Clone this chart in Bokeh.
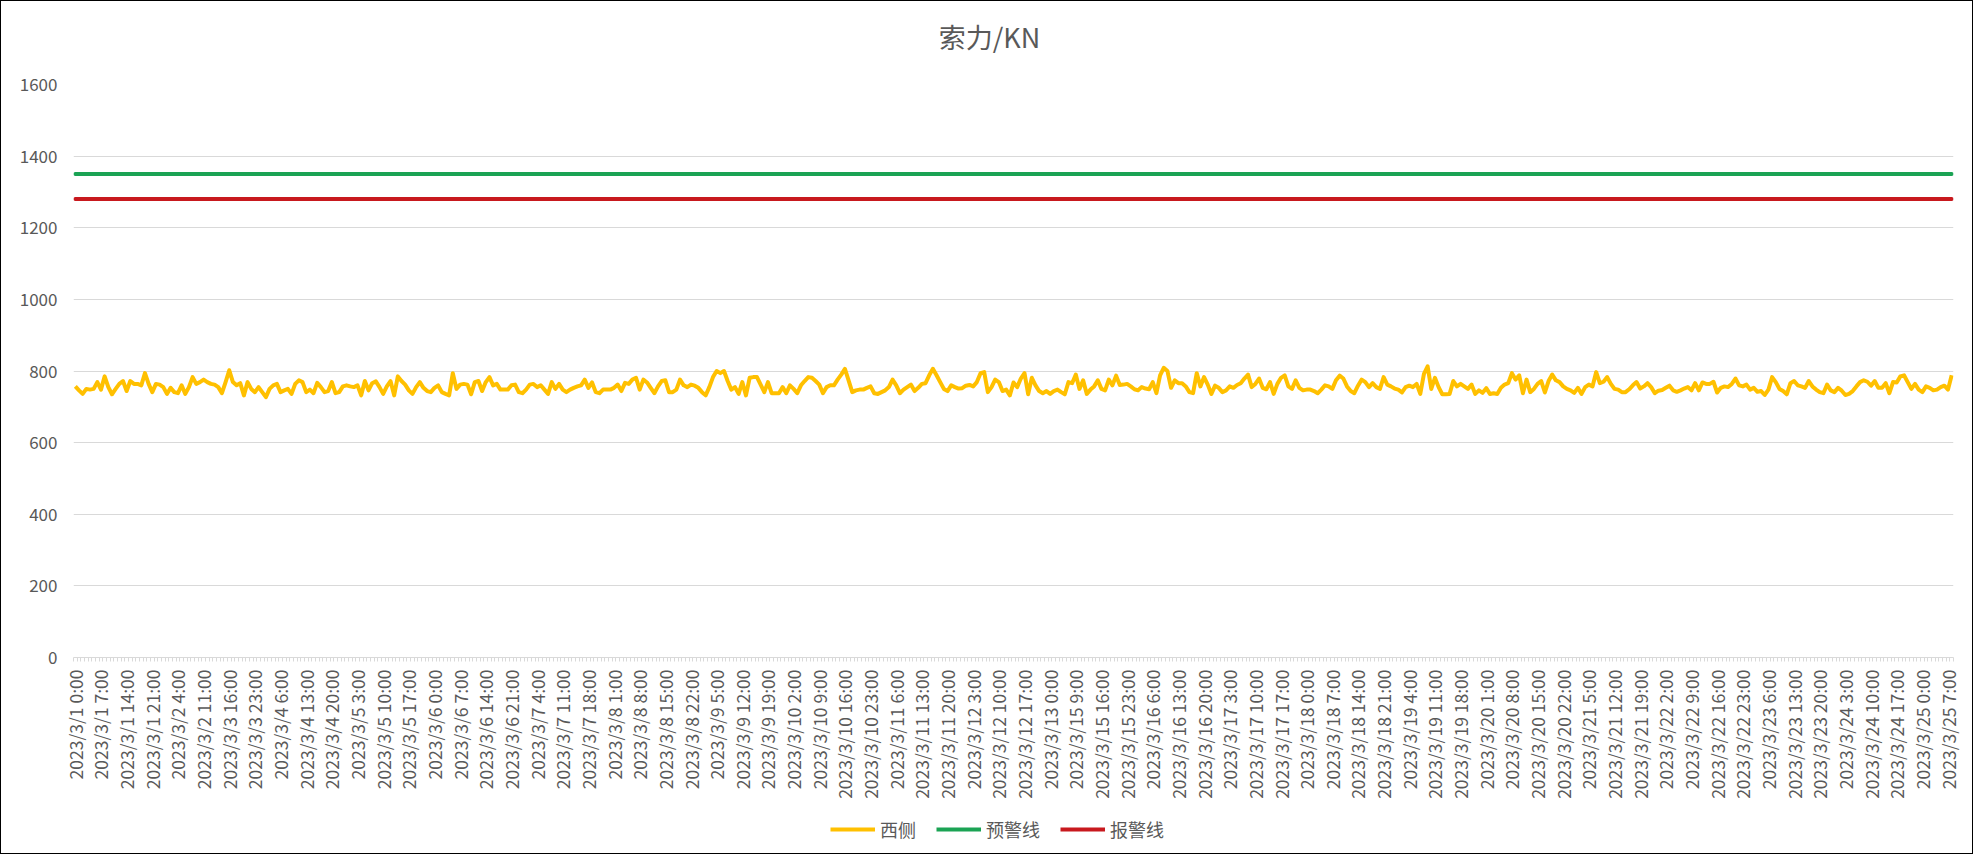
import math
from bokeh.plotting import figure
from bokeh.layouts import column
from bokeh.models import Range1d, FixedTicker, Legend, LegendItem, Label
from bokeh.embed import file_html
from bokeh.resources import INLINE

# ---- data ----
tick_labels = [
    "2023/3/1 0:00", "2023/3/1 7:00", "2023/3/1 14:00", "2023/3/1 21:00", "2023/3/2 4:00",
    "2023/3/2 11:00", "2023/3/3 16:00", "2023/3/3 23:00", "2023/3/4 6:00", "2023/3/4 13:00",
    "2023/3/4 20:00", "2023/3/5 3:00", "2023/3/5 10:00", "2023/3/5 17:00", "2023/3/6 0:00",
    "2023/3/6 7:00", "2023/3/6 14:00", "2023/3/6 21:00", "2023/3/7 4:00", "2023/3/7 11:00",
    "2023/3/7 18:00", "2023/3/8 1:00", "2023/3/8 8:00", "2023/3/8 15:00", "2023/3/8 22:00",
    "2023/3/9 5:00", "2023/3/9 12:00", "2023/3/9 19:00", "2023/3/10 2:00", "2023/3/10 9:00",
    "2023/3/10 16:00", "2023/3/10 23:00", "2023/3/11 6:00", "2023/3/11 13:00", "2023/3/11 20:00",
    "2023/3/12 3:00", "2023/3/12 10:00", "2023/3/12 17:00", "2023/3/13 0:00", "2023/3/15 9:00",
    "2023/3/15 16:00", "2023/3/15 23:00", "2023/3/16 6:00", "2023/3/16 13:00", "2023/3/16 20:00",
    "2023/3/17 3:00", "2023/3/17 10:00", "2023/3/17 17:00", "2023/3/18 0:00", "2023/3/18 7:00",
    "2023/3/18 14:00", "2023/3/18 21:00", "2023/3/19 4:00", "2023/3/19 11:00", "2023/3/19 18:00",
    "2023/3/20 1:00", "2023/3/20 8:00", "2023/3/20 15:00", "2023/3/20 22:00", "2023/3/21 5:00",
    "2023/3/21 12:00", "2023/3/21 19:00", "2023/3/22 2:00", "2023/3/22 9:00", "2023/3/22 16:00",
    "2023/3/22 23:00", "2023/3/23 6:00", "2023/3/23 13:00", "2023/3/23 20:00", "2023/3/24 3:00",
    "2023/3/24 10:00", "2023/3/24 17:00", "2023/3/25 0:00", "2023/3/25 7:00",
]
label_every = 7

west_side = [
    757, 746, 736, 750, 748, 750, 769, 748, 785, 755,
    735, 750, 764, 772, 744, 772, 764, 764, 760, 794,
    764, 741, 764, 762, 755, 736, 753, 741, 738, 760,
    736, 755, 783, 764, 769, 776, 769, 764, 762, 755,
    738, 769, 802, 769, 760, 766, 732, 769, 750, 741,
    755, 741, 727, 750, 760, 764, 741, 746, 750, 736,
    764, 774, 769, 741, 748, 738, 767, 755, 741, 744,
    769, 738, 741,
    757, 760, 757, 755, 760, 732, 772, 746, 766, 771,
    755, 736, 757, 772, 732, 785, 772, 762, 746, 736,
    755, 769, 753, 744, 741, 753, 760, 741, 736, 732,
    794, 750, 762, 764, 762, 735, 769, 772, 744, 769,
    783, 760, 764, 748, 748, 748, 760, 762, 741, 738,
    748, 762, 764, 755, 760, 748, 736, 769, 750, 764,
    748, 741, 748, 753, 757, 760, 776, 753, 768, 741,
    738, 748, 748, 748, 753, 762,
    744, 767, 764, 776, 781, 748, 776, 768, 753, 738,
    757, 772, 774, 741, 741, 748, 776, 760, 755, 762,
    759, 753, 741, 732, 755, 783, 800, 794, 800, 772,
    748, 755, 736, 769, 732, 781, 783, 783, 762, 741,
    769, 738, 738, 738, 755, 738, 760, 750, 738, 760,
    772, 783, 781, 772, 762, 738, 755, 760, 760, 776,
    790, 806, 774, 741, 746, 748, 748, 753, 757, 738,
    736, 741, 746, 755, 776, 760, 738,
    748, 755, 762, 744, 753, 764, 766, 788, 806, 788,
    769, 750, 744, 760, 755, 751, 752, 759, 761, 757,
    769, 794, 797, 741, 755, 776, 769, 744, 748, 732,
    768, 755, 779, 794, 735, 781, 760, 744, 738, 744,
    736, 744, 748, 741, 735, 769, 766, 790, 750, 774,
    736, 748, 757, 774, 750, 746, 776, 760, 787, 761,
    762, 764, 757, 749, 746, 755, 751, 749, 769, 738,
    788, 809, 800, 753, 774, 766,
    766, 757, 741, 738, 794, 757, 783, 762, 736, 759,
    753, 741, 746, 757, 753, 761, 766, 779, 790, 755,
    764, 779, 753, 749, 769, 736, 764, 781, 788, 757,
    750, 774, 753, 746, 748, 748, 744, 738, 748, 760,
    757, 750, 774, 787, 779, 757, 744, 738, 759, 776,
    769, 755, 766, 755, 750, 783, 762, 757, 751, 748,
    740, 755, 759, 755, 764, 736, 792, 813, 750, 781,
    755, 735, 735, 736, 772, 757,
    764, 757, 750, 762, 736, 746, 739, 752, 736, 738,
    736, 753, 762, 766, 794, 776, 788, 738, 776, 741,
    750, 764, 772, 740, 772, 790, 774, 769, 757, 750,
    746, 739, 753, 736, 755, 762, 757, 797, 766, 770,
    783, 764, 750, 748, 741, 741, 749, 760, 769, 751,
    757, 766, 755, 738, 745, 747, 753, 759, 746, 742,
    746, 751, 755, 746, 766, 746, 768, 764, 764, 770,
    740, 753, 757, 755, 764, 779,
    760, 757, 762, 748, 753, 742, 744, 733, 748, 783,
    769, 750, 744, 735, 766, 772, 760, 757, 753, 772,
    757, 748, 741, 738, 762, 746, 741, 753, 745, 733,
    736, 744, 757, 769, 774, 770, 759, 772, 753, 753,
    766, 738, 769, 768, 785, 788, 769, 750, 764, 748,
    741, 757, 753, 746, 748, 755, 759, 748, 788,
]
warning_level = 1350
alarm_level = 1280
y_ticks = [0, 200, 400, 600, 800, 1000, 1200, 1400, 1600]
series_names = ["西侧", "预警线", "报警线"]
title_text = "索力/KN"

# ---- style ----
FONT = "Noto Sans CJK SC"
TEXT = "#595959"
GRID = "#D9D9D9"
C_WEST, C_WARN, C_ALARM = "#FFC000", "#1BA354", "#C8191E"
W = 1971
B_LEFT, B_RIGHT = 72, 19
FRAME_W = W - B_LEFT - B_RIGHT
H_TITLE, H_MAIN, H_LEG = 62, 748, 42

n = len(west_side)
x = list(range(n))


def strip(height):
    # frames of the strips are aligned by the column with the main frame
    f = figure(width=W, height=height, output_backend="svg", toolbar_location=None,
               x_range=Range1d(0, FRAME_W), y_range=Range1d(0, height),
               x_axis_type=None, y_axis_type=None,
               min_border_left=B_LEFT, min_border_right=B_RIGHT,
               min_border_top=0, min_border_bottom=0)
    f.outline_line_color = None
    f.xgrid.visible = False
    f.ygrid.visible = False
    f.background_fill_color = "white"
    f.border_fill_color = "white"
    return f


# ---- title strip ----
pt = strip(H_TITLE)
pt.add_layout(Label(x=916, y=H_TITLE - 34.5, text=title_text, text_align="center",
                    text_baseline="middle", text_font=FONT, text_font_size="27px",
                    text_color=TEXT))

# ---- main chart ----
p = figure(width=W, height=H_MAIN, output_backend="svg", toolbar_location=None,
           x_range=Range1d(-0.5, n - 0.5), y_range=Range1d(0, 1600),
           min_border_left=B_LEFT, min_border_right=B_RIGHT,
           min_border_top=21, min_border_bottom=154)
p.outline_line_color = None
p.background_fill_color = "white"
p.border_fill_color = "white"

xt = [label_every * k for k in range(len(tick_labels))]
p.xaxis.ticker = FixedTicker(ticks=xt, minor_ticks=[i - 0.5 for i in range(n + 1)])
p.xaxis.major_label_overrides = {t: lab for t, lab in zip(xt, tick_labels)}
p.xaxis.major_label_orientation = math.pi / 2
p.xaxis.major_tick_line_color = None
p.xaxis.major_tick_out = 0
p.xaxis.major_tick_in = 0
p.xaxis.minor_tick_out = 4
p.xaxis.minor_tick_in = 0
p.xaxis.minor_tick_line_color = GRID
p.xaxis.axis_line_color = GRID
p.xaxis.major_label_standoff = 8
p.xaxis.major_label_text_font = FONT
p.xaxis.major_label_text_font_size = "17.5px"
p.xaxis.major_label_text_color = TEXT

p.yaxis.ticker = FixedTicker(ticks=y_ticks)
p.yaxis.axis_line_color = None
p.yaxis.major_tick_line_color = None
p.yaxis.minor_tick_line_color = None
p.yaxis.major_tick_out = 0
p.yaxis.major_tick_in = 0
p.yaxis.major_label_standoff = 16
p.yaxis.major_label_text_font = FONT
p.yaxis.major_label_text_font_size = "17px"
p.yaxis.major_label_text_color = TEXT

p.xgrid.grid_line_color = None
p.ygrid.grid_line_color = GRID
p.ygrid.grid_line_width = 1

p.line(x, west_side, line_color=C_WEST, line_width=4, line_join="round")
p.line(x, [warning_level] * n, line_color=C_WARN, line_width=4, line_cap="round")
p.line(x, [alarm_level] * n, line_color=C_ALARM, line_width=4, line_cap="round")

# ---- legend strip (same series, lying outside this strip's visible range) ----
pl = strip(H_LEG)
k1 = pl.line(x, west_side, line_color=C_WEST, line_width=4)
k2 = pl.line(x, [warning_level] * n, line_color=C_WARN, line_width=4)
k3 = pl.line(x, [alarm_level] * n, line_color=C_ALARM, line_width=4)
legend = Legend(items=[LegendItem(label=series_names[0], renderers=[k1]),
                       LegendItem(label=series_names[1], renderers=[k2]),
                       LegendItem(label=series_names[2], renderers=[k3])],
                orientation="horizontal", location=(757, 11),
                border_line_color=None, background_fill_alpha=0,
                padding=0, margin=0, spacing=20, glyph_width=45, glyph_height=20,
                label_standoff=5, label_text_font=FONT, label_text_font_size="18px",
                label_text_color=TEXT)
pl.add_layout(legend, "center")

layout = column(pt, p, pl, spacing=0, styles={"border": "1px solid #000000"})
open("out.html", "w").write(file_html(layout, INLINE))
